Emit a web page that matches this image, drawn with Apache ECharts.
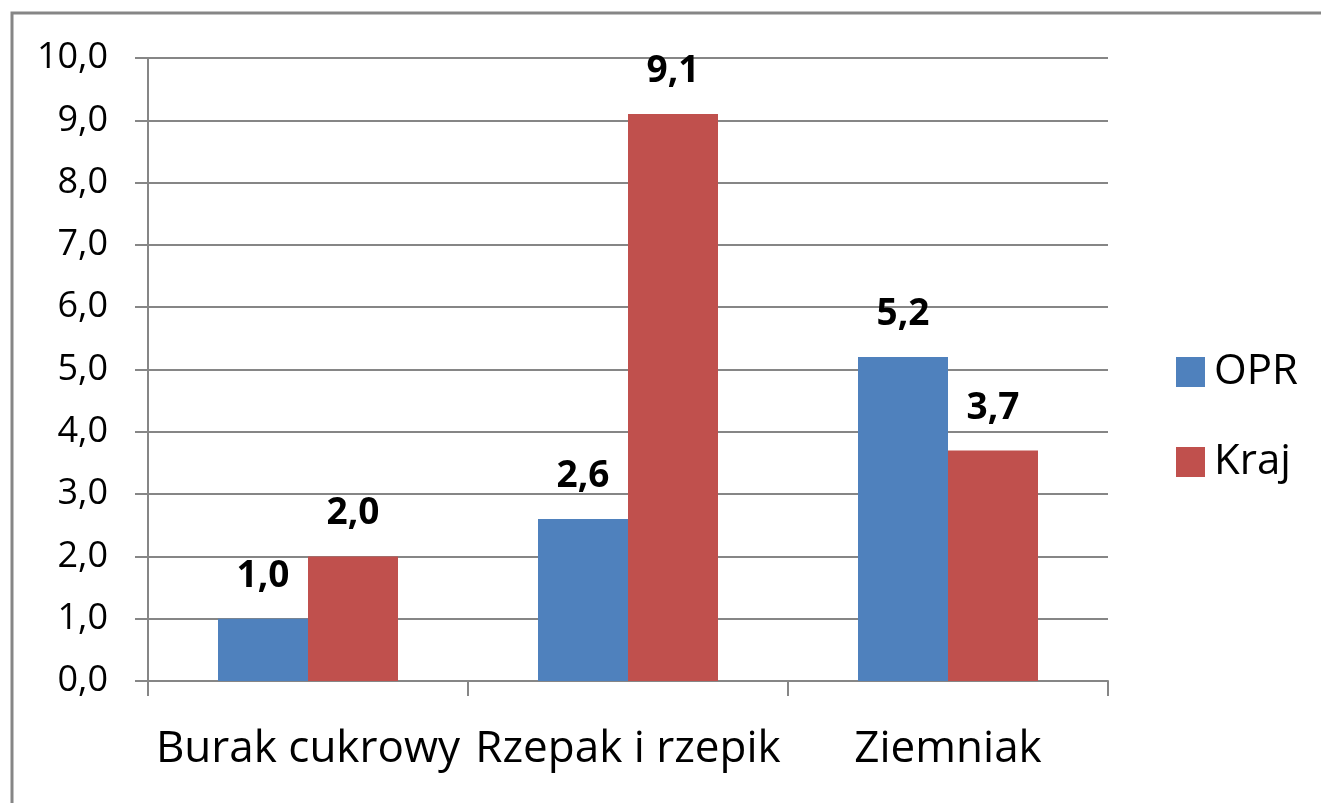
<!DOCTYPE html>
<html>
<head>
<meta charset="utf-8">
<script src="https://cdn.jsdelivr.net/npm/echarts@6/dist/echarts.min.js"></script>
<style>
html, body { margin: 0; padding: 0; background: #fff; }
#main { width: 1321px; height: 803px; }
</style>
</head>
<body>
<div id="main"></div>
<script>
var categories = ['Burak cukrowy', 'Rzepak i rzepik', 'Ziemniak'];
var opr = [1.0, 2.6, 5.2];
var kraj = [2.0, 9.1, 3.7];

function fmt(v) {
    return Number(v).toFixed(1).replace('.', ',');
}

var labelStyle = {
    show: true, position: 'top', distance: 24,
    fontSize: 37, fontWeight: 'bold', color: '#000',
    formatter: function (p) { return fmt(p.value); }
};

var myChart = echarts.init(document.getElementById('main'));
var option = {
    backgroundColor: '#fff',
    animation: false,
    textStyle: { fontFamily: 'Open Sans' },
    graphic: [{
        type: 'rect',
        shape: { x: 12, y: 13, width: 1400, height: 900 },
        style: { fill: 'none', stroke: '#868686', lineWidth: 3 },
        silent: true
    }],
    grid: { left: 148, top: 58, width: 960, height: 623 },
    legend: {
        orient: 'vertical',
        left: 1171,
        top: 344,
        itemWidth: 29,
        itemHeight: 30,
        itemGap: 44,
        icon: 'rect',
        textStyle: { fontSize: 42, color: '#000', lineHeight: 46, padding: [0, 0, 0, 4] },
        data: ['OPR', 'Kraj']
    },
    xAxis: {
        type: 'category',
        data: categories,
        axisLine: { lineStyle: { color: '#868686', width: 2 } },
        axisTick: { show: true, length: 15, lineStyle: { color: '#868686', width: 2 } },
        axisLabel: { fontSize: 44, color: '#000', margin: 46, interval: 0, hideOverlap: false }
    },
    yAxis: {
        type: 'value',
        min: 0,
        max: 10,
        interval: 1,
        axisLine: { show: true, lineStyle: { color: '#868686', width: 2 } },
        axisTick: { show: true, length: 13, lineStyle: { color: '#868686', width: 2 } },
        splitLine: { lineStyle: { color: '#868686', width: 2 } },
        axisLabel: { fontSize: 36, color: '#000', margin: 40, formatter: fmt }
    },
    series: [
        {
            name: 'OPR',
            type: 'bar',
            data: opr,
            barGap: '0%',
            barCategoryGap: '43.75%',
            itemStyle: { color: '#4F81BD' },
            label: labelStyle
        },
        {
            name: 'Kraj',
            type: 'bar',
            data: kraj,
            barGap: '0%',
            barCategoryGap: '43.75%',
            itemStyle: { color: '#C0504D' },
            label: labelStyle
        }
    ]
};
myChart.setOption(option);
</script>
</body>
</html>
